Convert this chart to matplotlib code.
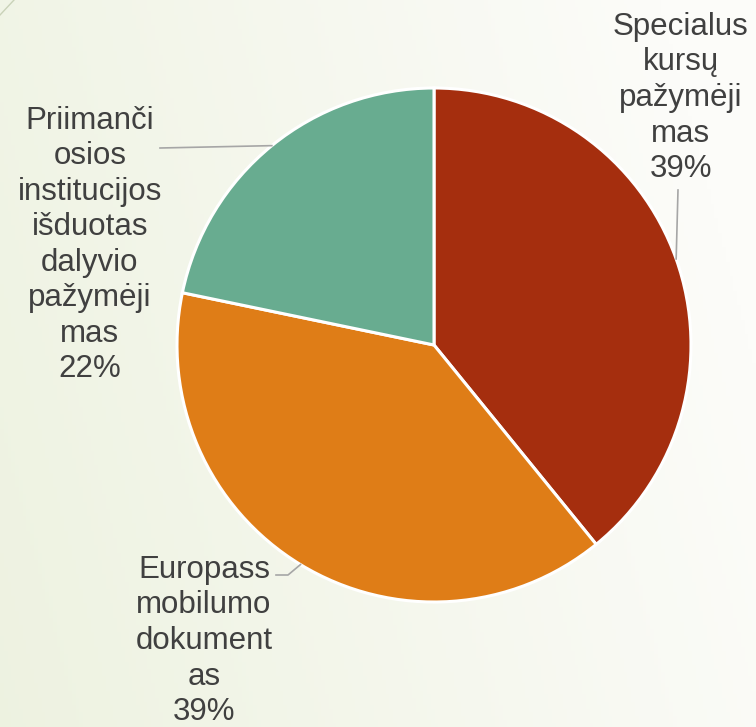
import numpy as np
import matplotlib.pyplot as plt

labels = ["Specialus\nkursų\npažymėji\nmas", "Europass\nmobilumo\ndokument\nas",
          "Priimanči\nosios\ninstitucijos\nišduotas\ndalyvio\npažymėji\nmas"]
counts = [18, 18, 10]
colors = ["#A52E0E", "#DF7D17", "#68AC90"]

W, H = 756, 727
fig = plt.figure(figsize=(W / 100, H / 100), dpi=100)
ax = fig.add_axes([0, 0, 1, 1])

# soft greenish background, fading to white on the right
xx, yy = np.meshgrid(np.linspace(0, 1, 200), np.linspace(0, 1, 200))
t = np.clip(0.8 * xx + 0.2 * (1 - yy) + 0.1, 0, 1)
c0 = np.array([236, 241, 222]) / 255
c1 = np.array([252, 252, 249]) / 255
bg = c0[None, None, :] * (1 - t[..., None]) + c1[None, None, :] * t[..., None]
ax.imshow(bg, extent=[0, W, 0, H], origin="upper", aspect="auto", zorder=0)
ax.plot([0, 14], [H - 15, H], color="#c9d2b8", lw=1, zorder=1)

cx, cy, r = 434, H - 345, 257
wedges, _ = ax.pie(counts, colors=colors, startangle=90, counterclock=False,
                   center=(cx, cy), radius=r, frame=True,
                   wedgeprops=dict(edgecolor="white", linewidth=2.2))
ax.set_xlim(0, W)
ax.set_ylim(0, H)
ax.set_aspect("equal")
ax.axis("off")

total = sum(counts)
pcts = [f"{round(100 * c / total)}%" for c in counts]

# label block centres and leader-line anchors (in pixels from top-left)
label_pos = [(681, 98), (204, 641), (90, 245)]
anchors = [[(678, 190)], [(276, 575), (288, 575)], [(160, 148)]]

for w, lab, pct, (lx, ly), anc in zip(wedges, labels, pcts, label_pos, anchors):
    ax.text(lx, H - ly, lab + "\n" + pct, ha="center", va="center",
            fontsize=22.5, color="#404040", family="Liberation Sans",
            linespacing=1.24, zorder=5)
    mid = np.deg2rad((w.theta1 + w.theta2) / 2)
    ex, ey = cx + r * np.cos(mid), cy + r * np.sin(mid)
    xs = [a[0] for a in anc] + [ex]
    ys = [H - a[1] for a in anc] + [ey]
    ax.plot(xs, ys, color="#a6a6a6", lw=1.2, zorder=4)

fig.savefig("out.png", dpi=100)
